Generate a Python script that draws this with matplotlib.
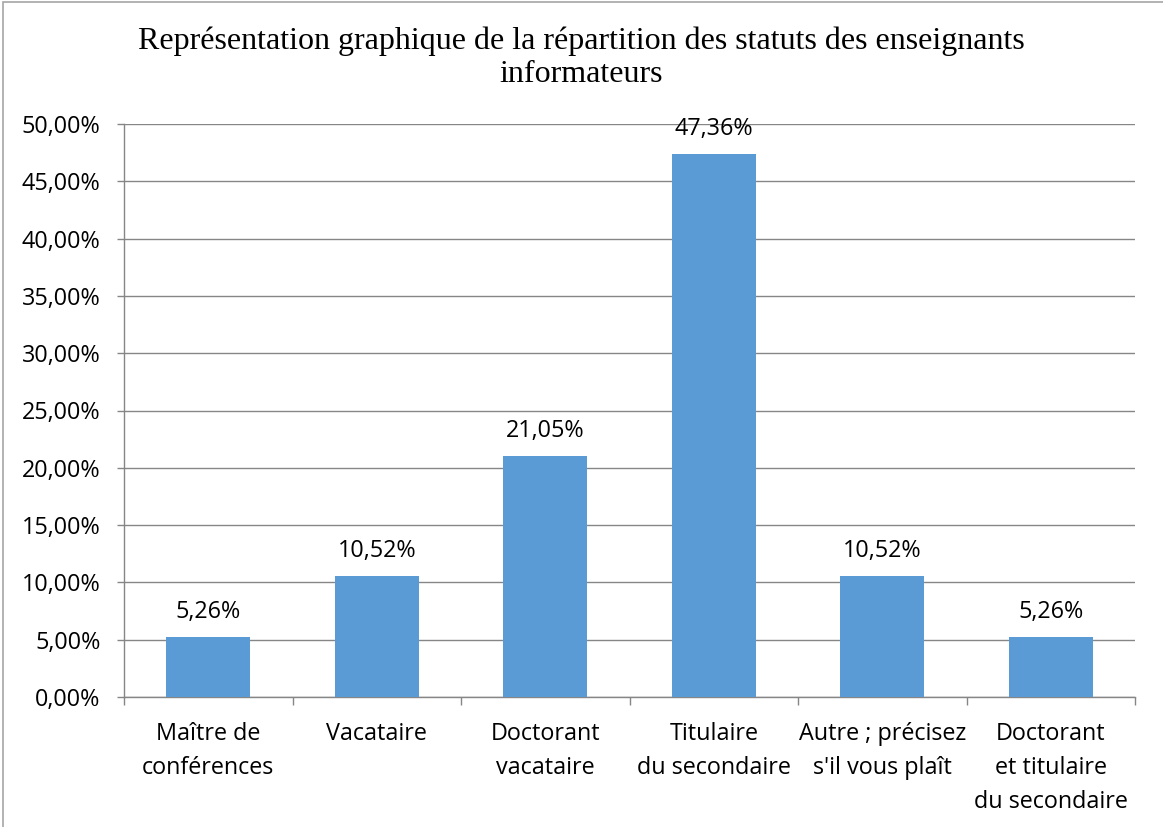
import matplotlib
matplotlib.use("Agg")
import matplotlib.pyplot as plt
from matplotlib.patches import Rectangle
import numpy as np

categories = ["Maître de\nconférences", "Vacataire", "Doctorant\nvacataire",
              "Titulaire\ndu secondaire", "Autre ; précisez\ns'il vous plaît",
              "Doctorant\net titulaire\ndu secondaire"]
values = [5.26, 10.52, 21.05, 47.36, 10.52, 5.26]
value_labels = ["5,26%", "10,52%", "21,05%", "47,36%", "10,52%", "5,26%"]
yticks = [0, 5, 10, 15, 20, 25, 30, 35, 40, 45, 50]
ytick_labels = ["0,00%", "5,00%", "10,00%", "15,00%", "20,00%", "25,00%",
                "30,00%", "35,00%", "40,00%", "45,00%", "50,00%"]
title = "Représentation graphique de la répartition des statuts des enseignants\ninformateurs"

W, H = 1163, 827
fig = plt.figure(figsize=(W/100, H/100), dpi=100)
left, right, bottom, top = 124/W, 1135/W, 1 - 697/H, 1 - 124/H
ax = fig.add_axes([left, bottom, right-left, top-bottom])

sans = ["Open Sans", "DejaVu Sans"]
fs = 16.8
grid_c = "#868686"
x = np.arange(len(categories))
bars = ax.bar(x, values, width=0.5, color="#5B9BD5", zorder=3)
ax.set_xlim(-0.5, len(categories)-0.5)
ax.set_ylim(0, 50)
ax.set_yticks(yticks)
ax.set_yticklabels(ytick_labels, fontsize=fs, family=sans)
ax.yaxis.grid(True, color=grid_c, linewidth=1, zorder=0)
ax.set_xticks(x)
ax.set_xticklabels(categories, fontsize=fs, family=sans, linespacing=1.55, va="top")
ax.tick_params(axis="x", length=0, pad=18)
ax.set_xticks(np.arange(len(categories)+1)-0.5, minor=True)
ax.tick_params(axis="x", which="minor", length=6, color=grid_c, width=1)
ax.tick_params(axis="y", length=5, color=grid_c, width=1, pad=12)
for s in ["top", "right"]:
    ax.spines[s].set_visible(False)
for s in ["left", "bottom"]:
    ax.spines[s].set_color(grid_c)
    ax.spines[s].set_linewidth(1)

for b, lab in zip(bars, value_labels):
    ax.annotate(lab, (b.get_x()+b.get_width()/2, b.get_height()),
                xytext=(0, 18), textcoords="offset points", ha="center", va="center",
                fontsize=fs, family=sans)

fig.text(0.5, 1 - 58/H, title, ha="center", va="center", fontsize=23,
         family=["Liberation Serif", "DejaVu Serif"], linespacing=1.2)

fig.patches.append(Rectangle((3/W, -0.05), 1.2, 1.05 - 2/H, transform=fig.transFigure,
                             fill=False, edgecolor="#A6A6A6", linewidth=1.2))

fig.savefig("out.png", dpi=100)
